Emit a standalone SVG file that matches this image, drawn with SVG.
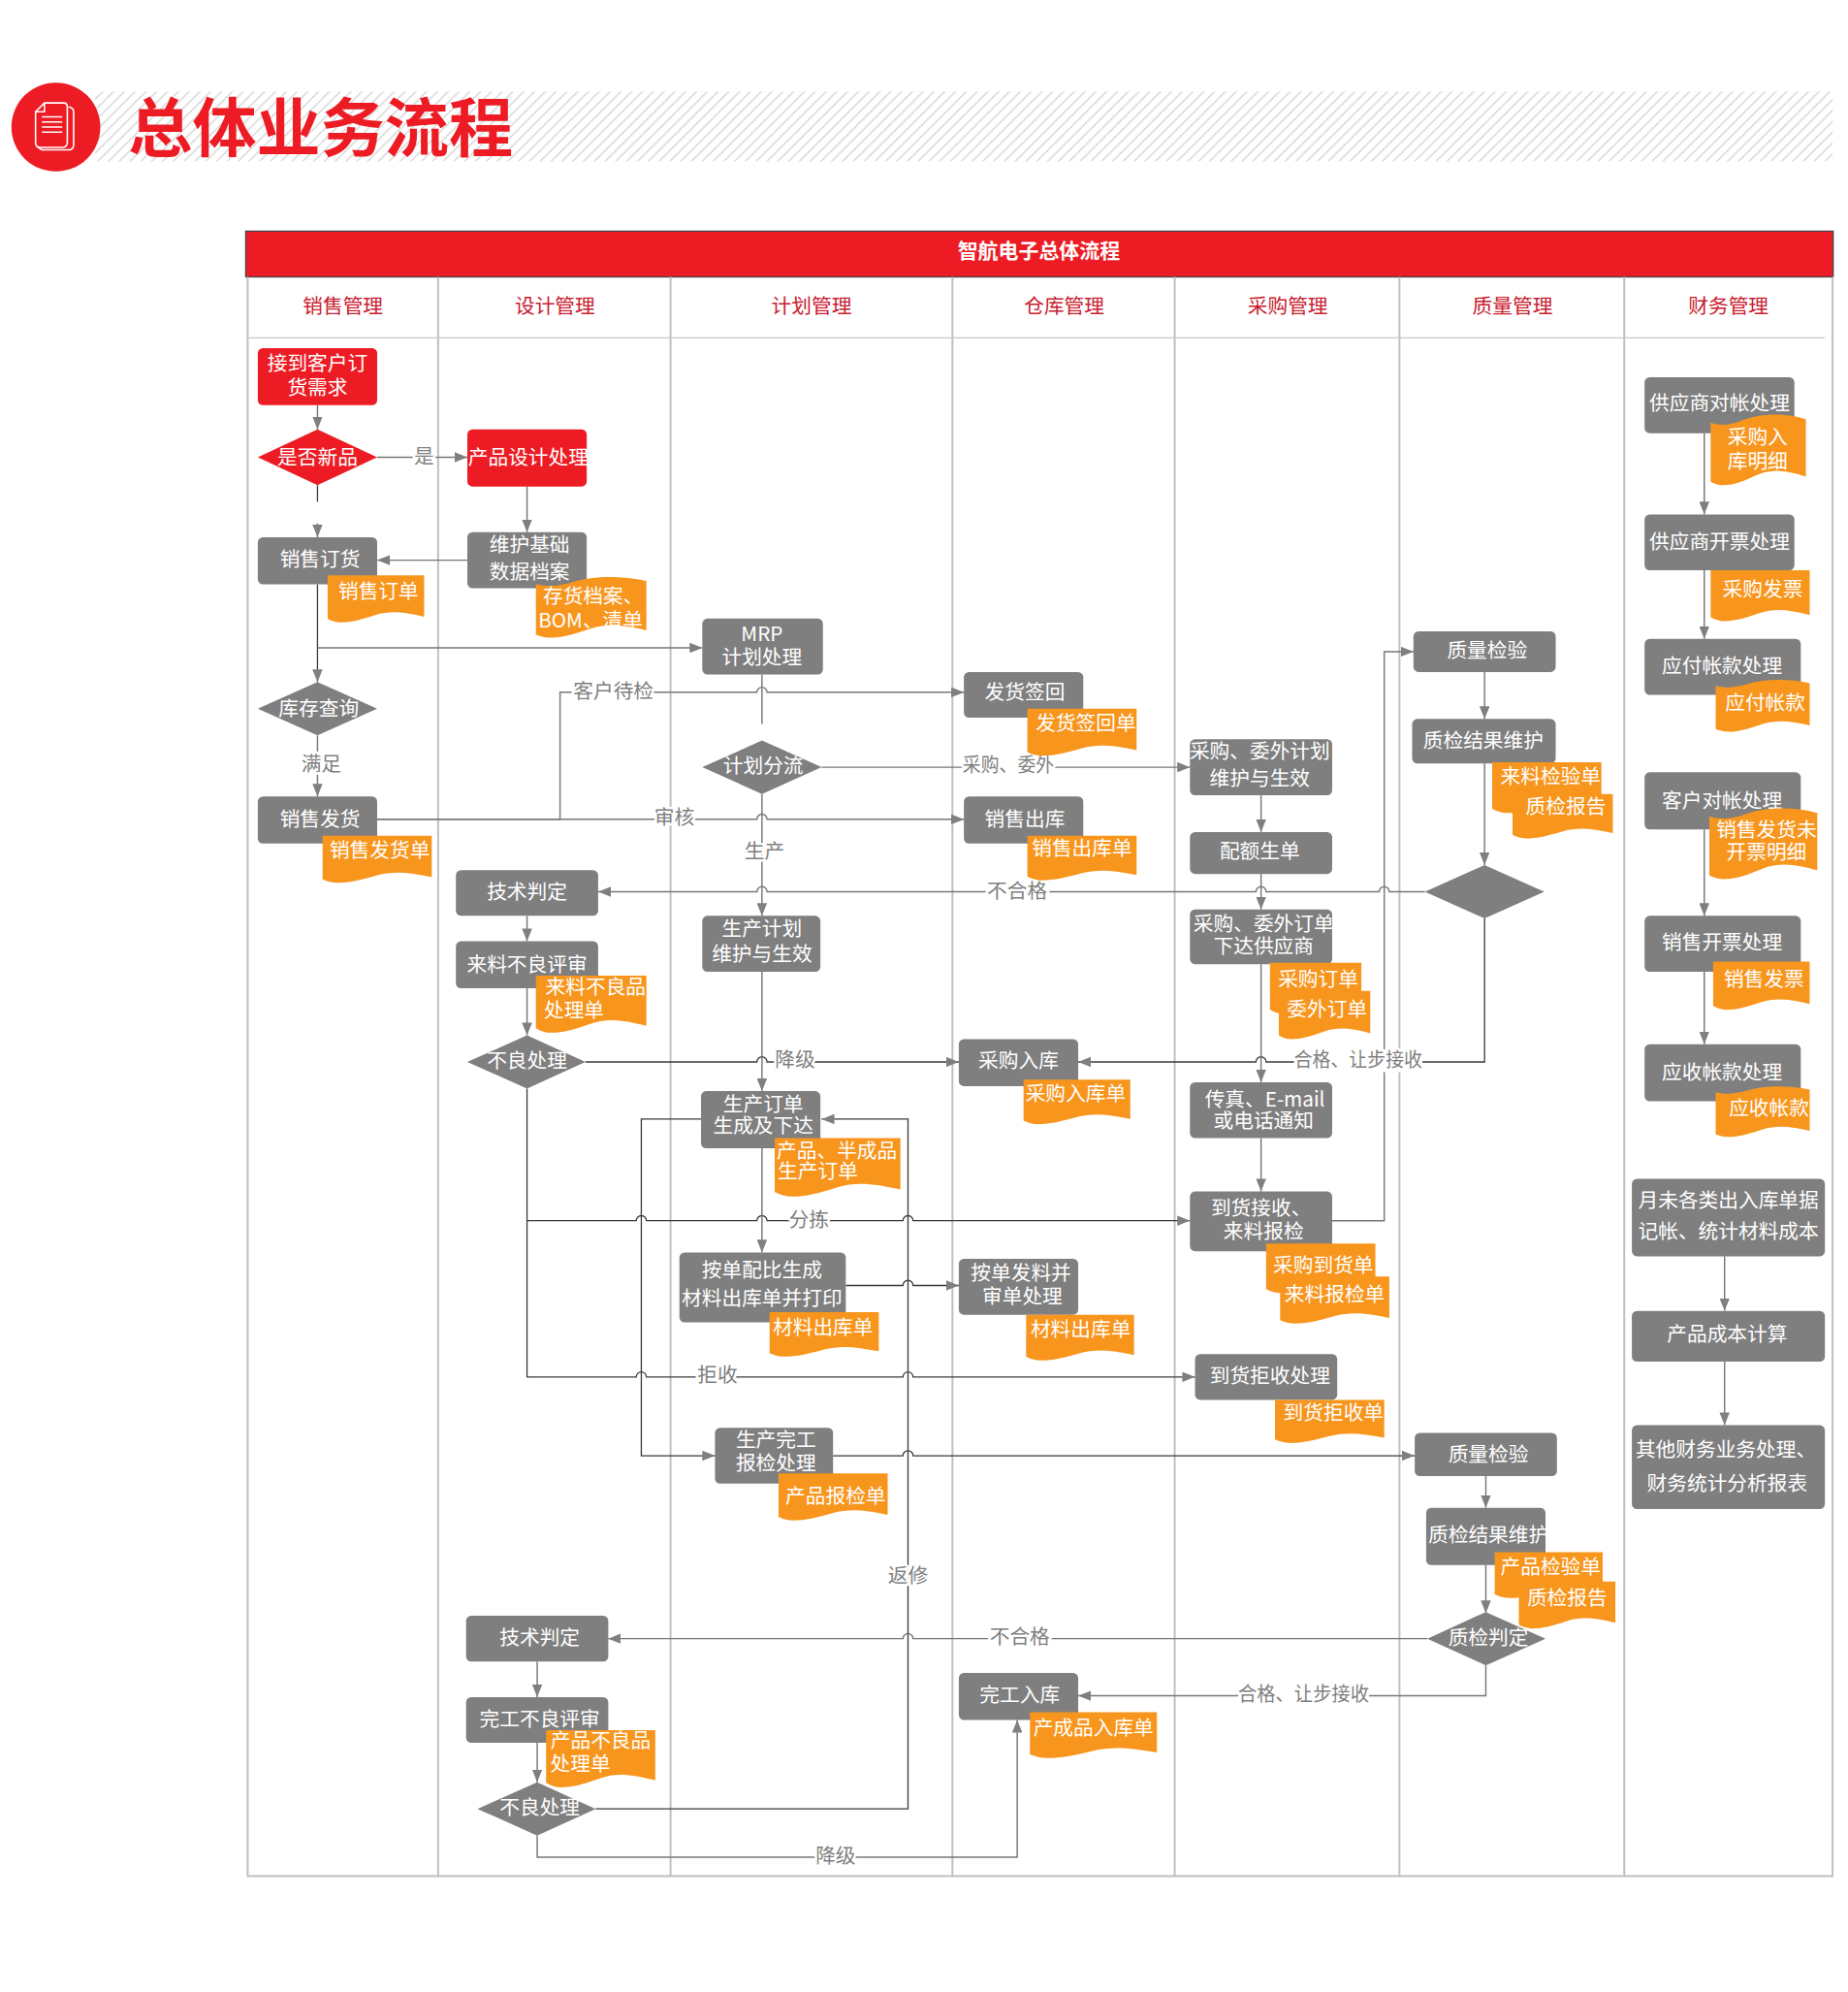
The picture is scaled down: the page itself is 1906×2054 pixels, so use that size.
<svg xmlns="http://www.w3.org/2000/svg" width="1906" height="2054" viewBox="0 0 1906 2054">
<style>
text{font-family:"Noto Sans CJK SC","Liberation Sans",sans-serif;text-anchor:middle;dominant-baseline:central;transform:translateY(-1.1px)}
.t{fill:#fff;font-size:15.8px}
.l{fill:#7f7f7f;font-size:15.8px;stroke:#fff;stroke-width:4px;paint-order:stroke;stroke-linejoin:round}
.h{fill:#c8202f;font-size:15.8px}
.g{fill:#7f7f7f}.r{fill:#ed1c24}.o{fill:#f8951d}
.c path{fill:none;stroke:#777;stroke-width:1.1}
.c path.d{stroke:#3a3a3a;stroke-width:1}
.c path.a{marker-end:url(#ar)}
.lane{fill:none;stroke:#bfbfbf;stroke-width:1.5}
</style>
<defs>
<marker id="ar" markerUnits="userSpaceOnUse" markerWidth="10" markerHeight="8" refX="10" refY="4" orient="auto"><path d="M0 0L10 4L0 8Z" fill="#7f7f7f"/></marker>
<pattern id="hatch" patternUnits="userSpaceOnUse" width="8.500" height="8.500"><path d="M-1 9.500L9.500 -1M-1 1L1 -1M7.500 9.500L9.500 7.500" stroke="#d0d0d0" stroke-width="1"/></pattern>
<path id="doc" d="M0 0H1V.88C.8 .78 .65 .74 .5 .84C.35 .94 .25 1 .14 1C.09 1 .04 .97 0 .92Z"/>
<path id="flag" d="M0 .12C.1 .17 .2 .16 .35 .08C.5 0 .75 -.03 1 .07V.88C.82 .8 .66 .76 .5 .85C.35 .94 .25 1 .14 1C.09 1 .04 .98 0 .95Z"/>
</defs>
<g transform="scale(1.3098)">
<g id="title">
<rect x="75" y="72" width="1368" height="55" fill="url(#hatch)"/>
<circle cx="44" cy="100" r="35" fill="#ed1c24"/>
<g fill="none" stroke="#fff" stroke-width="1.2"><path d="M54 84Q58 85 58 88V114Q58 118 54 118H35Q31 118 30 115"/><path d="M35 81H50Q53 81 53 84V112Q53 116 49 116H31Q28 116 28 112V88Z"/><path d="M35 81V88H28M33 92H49M33 96H49M33 100H49M33 104H49"/></g>
<text x="252.500" y="98" style="font-size:50.5px;font-weight:700;fill:#ed1c24">总体业务流程</text>
</g>
<g id="swimlanes">
<rect x="193.500" y="182" width="1250" height="36" fill="#ed1c24" stroke="#444" stroke-width="1"/>
<text x="818" y="197" style="fill:#fff;font-size:16px;font-weight:700">智航电子总体流程</text>
<path class="lane" d="M195 218V1477H1443V218M345 218V1477M528 218V1477M750 218V1477M925 218V1477M1102 218V1477M1279 218V1477"/>
<path d="M195 266H1437" fill="none" stroke="#c8c8c8" stroke-width="1"/>
<text class="h" x="270" y="241">销售管理</text><text class="h" x="437" y="241">设计管理</text><text class="h" x="639" y="241">计划管理</text><text class="h" x="838" y="241">仓库管理</text><text class="h" x="1014" y="241">采购管理</text><text class="h" x="1191" y="241">质量管理</text><text class="h" x="1361" y="241">财务管理</text>
</g>
<g id="connectors" class="c">
<path class="a" d="M250 319V338"/>
<path class="d" d="M250 382V395"/><path class="a" d="M250 412V423"/>
<path class="a" d="M297 360H368"/>
<path class="a" d="M415 383V419"/>
<path class="a" d="M368 441H297"/>
<path class="a d" d="M250 460V537"/>
<path class="a" d="M250 510H553"/>
<path class="a" d="M250 579V627"/>
<path class="a" d="M297 645H441V545H596a4 4 0 0 1 8 0H759"/>
<path class="a" d="M297 645H596a4 4 0 0 1 8 0H759"/>
<path d="M600 531V570"/>
<path class="a" d="M647 604H937"/>
<path class="a" d="M600 625V721"/>
<path class="a" d="M1122 702H1094a4 4 0 0 0 -8 0H997a4 4 0 0 0 -8 0H604a4 4 0 0 0 -8 0H471"/>
<path class="a" d="M415 721V741"/>
<path class="a" d="M415 778V815"/>
<path class="a d" d="M461 836H596a4 4 0 0 1 8 0H755"/>
<path class="a" d="M600 765V859"/>
<path class="a d" d="M1169 723V836H997a4 4 0 0 0 -8 0H849"/>
<path class="a" d="M993 626V655"/>
<path class="a" d="M993 688V716"/>
<path class="a" d="M993 759V852"/>
<path class="a" d="M993 896V938"/>
<path class="a" d="M1049 961H1090V513H1113"/>
<path class="a" d="M1169 529V566"/>
<path class="a" d="M1169 601V681"/>
<path class="a d" d="M415 857V1084H501a4 4 0 0 1 8 0H711a4 4 0 0 1 8 0H941"/>
<path class="a d" d="M415 961H501a4 4 0 0 1 8 0H596a4 4 0 0 1 8 0H711a4 4 0 0 1 8 0H937"/>
<path class="a" d="M600 904V986"/>
<path class="a d" d="M552 881H505V1146H563"/>
<path class="a d" d="M666 1012H711a4 4 0 0 1 8 0H755"/>
<path class="a d" d="M656 1146H711a4 4 0 0 1 8 0H1114"/>
<path class="a" d="M1170 1162V1187"/>
<path class="a" d="M1170 1232V1270"/>
<path class="a" d="M1124 1290H719a4 4 0 0 0 -8 0H479"/>
<path class="a" d="M1170 1311V1335H849"/>
<path class="a" d="M423 1308V1336"/>
<path class="a" d="M423 1372V1403"/>
<path class="a d" d="M469 1424H715V881H647"/>
<path class="a" d="M423 1445V1462H801V1354"/>
<path class="a" d="M1342 341V405"/>
<path class="a" d="M1342 449V503"/>
<path class="a" d="M1342 653V721"/>
<path class="a" d="M1342 765V822"/>
<path class="a" d="M1358 989V1032"/>
<path class="a" d="M1358 1072V1122"/>
<rect x="758" y="594" width="72" height="18" fill="#fff"/>
<rect x="1019" y="826" width="101" height="18" fill="#fff"/>
<rect x="975" y="1325" width="103" height="18" fill="#fff"/>
<text class="l" x="334" y="359">是</text>
<text class="l" x="253" y="601">满足</text>
<text class="l" x="483" y="544">客户待检</text>
<text class="l" x="531" y="643">审核</text>
<text class="l" x="794" y="602" textLength="72" lengthAdjust="spacingAndGlyphs">采购、委外</text>
<text class="l" x="602" y="670">生产</text>
<text class="l" x="801" y="701">不合格</text>
<text class="l" x="626" y="834">降级</text>
<text class="l" x="1069.500" y="834" textLength="101" lengthAdjust="spacingAndGlyphs">合格、让步接收</text>
<text class="l" x="637" y="960">分拣</text>
<text class="l" x="565" y="1082">拒收</text>
<text class="l" x="715" y="1240">返修</text>
<text class="l" x="803" y="1288">不合格</text>
<text class="l" x="1026.500" y="1333" textLength="103" lengthAdjust="spacingAndGlyphs">合格、让步接收</text>
<text class="l" x="658" y="1461">降级</text>
</g>
<g id="n1"><rect class="r" x="203" y="274" width="94" height="45" rx="4"/><text class="t" x="250" y="286">接到客户订</text><text class="t" x="250" y="305">货需求</text></g>
<g id="n2"><path class="r" d="M203 360L250 338L297 360L250 382Z"/><text class="t" x="250" y="360">是否新品</text></g>
<g id="n3"><rect class="r" x="368" y="338" width="94" height="45" rx="4"/><text class="t" x="416" y="360">产品设计处理</text></g>
<g id="n4"><rect class="g" x="203" y="423" width="94" height="37" rx="4"/><text class="t" x="252" y="440">销售订货</text><use href="#doc" class="o" transform="translate(258 453) scale(76 37)"/><text class="t" x="298" y="465">销售订单</text></g>
<g id="n5"><rect class="g" x="368" y="419" width="94" height="44" rx="4"/><text class="t" x="417" y="429">维护基础</text><text class="t" x="417" y="450">数据档案</text><use href="#flag" class="o" transform="translate(422 454) scale(87 48)"/><text class="t" x="467" y="469">存货档案、</text><text class="t" x="465" y="488">BOM、清单</text></g>
<g id="n6"><rect class="g" x="553" y="487" width="95" height="44" rx="4"/><text class="t" x="600" y="499">MRP</text><text class="t" x="600" y="517">计划处理</text></g>
<g id="n7"><path class="g" d="M203 558L250 537L297 558L250 579Z"/><text class="t" x="251" y="558">库存查询</text></g>
<g id="n8"><rect class="g" x="759" y="529" width="94" height="36" rx="4"/><text class="t" x="807" y="545">发货签回</text><use href="#doc" class="o" transform="translate(809 558) scale(86 37)"/><text class="t" x="855" y="569">发货签回单</text></g>
<g id="n9"><path class="g" d="M553 604L600 583L647 604L600 625Z"/><text class="t" x="601" y="603">计划分流</text></g>
<g id="n10"><rect class="g" x="203" y="627" width="94" height="37" rx="4"/><text class="t" x="252" y="645">销售发货</text><use href="#doc" class="o" transform="translate(254 658) scale(86 37)"/><text class="t" x="299" y="669">销售发货单</text></g>
<g id="n11"><rect class="g" x="759" y="627" width="94" height="37" rx="4"/><text class="t" x="807" y="645">销售出库</text><use href="#doc" class="o" transform="translate(809 658) scale(86 35)"/><text class="t" x="852" y="668">销售出库单</text></g>
<g id="n12"><rect class="g" x="937" y="582" width="112" height="44" rx="4"/><text class="t" x="992" y="591">采购、委外计划</text><text class="t" x="992" y="613">维护与生效</text></g>
<g id="n13"><rect class="g" x="937" y="655" width="112" height="33" rx="4"/><text class="t" x="992" y="670">配额生单</text></g>
<g id="n14"><rect class="g" x="359" y="685" width="112" height="36" rx="4"/><text class="t" x="415" y="702">技术判定</text></g>
<g id="n15"><rect class="g" x="553" y="721" width="93" height="44" rx="4"/><text class="t" x="600" y="731">生产计划</text><text class="t" x="600" y="751">维护与生效</text></g>
<g id="n16"><rect class="g" x="937" y="716" width="112" height="43" rx="4"/><text class="t" x="995" y="727">采购、委外订单</text><text class="t" x="995" y="745">下达供应商</text><use href="#doc" class="o" transform="translate(1000 758) scale(72 40)"/><text class="t" x="1038" y="771">采购订单</text><use href="#doc" class="o" transform="translate(1007 780) scale(72 38)"/><text class="t" x="1045" y="794">委外订单</text></g>
<g id="n17"><rect class="g" x="359" y="741" width="112" height="37" rx="4"/><text class="t" x="415" y="759">来料不良评审</text><use href="#doc" class="o" transform="translate(422 768) scale(87 45)"/><text class="t" x="469" y="777">来料不良品</text><text class="t" x="452" y="795">处理单</text></g>
<g id="n18"><path class="g" d="M368 836L415 815L461 836L415 857Z"/><text class="t" x="415" y="835">不良处理</text></g>
<g id="n19"><rect class="g" x="755" y="818" width="94" height="37" rx="4"/><text class="t" x="802" y="835">采购入库</text><use href="#doc" class="o" transform="translate(806 850) scale(84 35)"/><text class="t" x="847" y="861">采购入库单</text></g>
<g id="n20"><rect class="g" x="552" y="859" width="94" height="45" rx="4"/><text class="t" x="601" y="869">生产订单</text><text class="t" x="601" y="886">生成及下达</text><use href="#doc" class="o" transform="translate(610 896) scale(99 46)"/><text class="t" x="659" y="906">产品、半成品</text><text class="t" x="644" y="922">生产订单</text></g>
<g id="n21"><rect class="g" x="937" y="852" width="112" height="44" rx="4"/><text class="t" x="996" y="865">传真、E-mail</text><text class="t" x="995" y="882">或电话通知</text></g>
<g id="n22"><rect class="g" x="937" y="938" width="112" height="47" rx="4"/><text class="t" x="993" y="951">到货接收、</text><text class="t" x="995" y="969">来料报检</text><use href="#doc" class="o" transform="translate(997 979) scale(86 39)"/><text class="t" x="1042" y="996">采购到货单</text><use href="#doc" class="o" transform="translate(1008 1005) scale(86 37)"/><text class="t" x="1051" y="1019">来料报检单</text></g>
<g id="n23"><rect class="g" x="535" y="986" width="131" height="55" rx="4"/><text class="t" x="600" y="1000">按单配比生成</text><text class="t" x="600" y="1022">材料出库单并打印</text><use href="#doc" class="o" transform="translate(606 1033) scale(86 35)"/><text class="t" x="648" y="1045">材料出库单</text></g>
<g id="n24"><rect class="g" x="755" y="991" width="94" height="44" rx="4"/><text class="t" x="804" y="1002">按单发料并</text><text class="t" x="805" y="1020">审单处理</text><use href="#doc" class="o" transform="translate(808 1035) scale(85 36)"/><text class="t" x="851" y="1046">材料出库单</text></g>
<g id="n25"><rect class="g" x="941" y="1066" width="112" height="36" rx="4"/><text class="t" x="1000" y="1083">到货拒收处理</text><use href="#doc" class="o" transform="translate(1004 1102) scale(86 34)"/><text class="t" x="1050" y="1112">到货拒收单</text></g>
<g id="n26"><rect class="g" x="563" y="1124" width="93" height="44" rx="4"/><text class="t" x="611" y="1133">生产完工</text><text class="t" x="611" y="1152">报检处理</text><use href="#doc" class="o" transform="translate(613 1160) scale(86 37)"/><text class="t" x="658" y="1178">产品报检单</text></g>
<g id="n27"><rect class="g" x="1114" y="1128" width="112" height="34" rx="4"/><text class="t" x="1172" y="1145">质量检验</text></g>
<g id="n28"><rect class="g" x="1123" y="1187" width="94" height="45" rx="4"/><text class="t" x="1172" y="1208">质检结果维护</text><use href="#doc" class="o" transform="translate(1177 1222) scale(85 36)"/><text class="t" x="1221" y="1233">产品检验单</text><use href="#doc" class="o" transform="translate(1196 1245) scale(76 37)"/><text class="t" x="1234" y="1258">质检报告</text></g>
<g id="n29"><path class="g" d="M1124 1290L1170 1269L1217 1290L1170 1311Z"/><text class="t" x="1172" y="1289">质检判定</text></g>
<g id="n30"><rect class="g" x="367" y="1272" width="112" height="36" rx="4"/><text class="t" x="425" y="1289">技术判定</text></g>
<g id="n31"><rect class="g" x="367" y="1336" width="112" height="36" rx="4"/><text class="t" x="425" y="1353">完工不良评审</text><use href="#doc" class="o" transform="translate(430 1362) scale(86 45)"/><text class="t" x="473" y="1370">产品不良品</text><text class="t" x="457" y="1388">处理单</text></g>
<g id="n32"><path class="g" d="M376 1424L423 1403L469 1424L423 1445Z"/><text class="t" x="425" y="1423">不良处理</text></g>
<g id="n33"><rect class="g" x="755" y="1317" width="94" height="37" rx="4"/><text class="t" x="803" y="1334">完工入库</text><use href="#doc" class="o" transform="translate(811 1348) scale(100 36)"/><text class="t" x="861" y="1360">产成品入库单</text></g>
<g id="n34"><rect class="g" x="1113" y="497" width="112" height="32" rx="4"/><text class="t" x="1171" y="512">质量检验</text></g>
<g id="n35"><rect class="g" x="1112" y="566" width="113" height="35" rx="4"/><text class="t" x="1168" y="583">质检结果维护</text><use href="#doc" class="o" transform="translate(1175 600) scale(86 40)"/><text class="t" x="1221" y="611">来料检验单</text><use href="#doc" class="o" transform="translate(1191 625) scale(79 35)"/><text class="t" x="1233" y="635">质检报告</text></g>
<g id="n36"><path class="g" d="M1122 702L1169 681L1216 702L1169 723Z"/></g>
<g id="n37"><rect class="g" x="1295" y="297" width="118" height="44" rx="4"/><text class="t" x="1354" y="317">供应商对帐处理</text><use href="#flag" class="o" transform="translate(1347 326) scale(75 56)"/><text class="t" x="1384" y="344">采购入</text><text class="t" x="1384" y="363">库明细</text></g>
<g id="n38"><rect class="g" x="1295" y="405" width="118" height="44" rx="4"/><text class="t" x="1354" y="426">供应商开票处理</text><use href="#doc" class="o" transform="translate(1347 449) scale(78 40)"/><text class="t" x="1388" y="464">采购发票</text></g>
<g id="n39"><rect class="g" x="1295" y="503" width="123" height="44" rx="4"/><text class="t" x="1356" y="524">应付帐款处理</text><use href="#flag" class="o" transform="translate(1351 535) scale(74 41)"/><text class="t" x="1390" y="553">应付帐款</text></g>
<g id="n40"><rect class="g" x="1295" y="608" width="123" height="45" rx="4"/><text class="t" x="1356" y="630">客户对帐处理</text><use href="#flag" class="o" transform="translate(1346 636) scale(85 56)"/><text class="t" x="1391" y="653">销售发货未</text><text class="t" x="1391" y="671">开票明细</text></g>
<g id="n41"><rect class="g" x="1295" y="721" width="123" height="44" rx="4"/><text class="t" x="1356" y="742">销售开票处理</text><use href="#doc" class="o" transform="translate(1349 757) scale(76 38)"/><text class="t" x="1389" y="771">销售发票</text></g>
<g id="n42"><rect class="g" x="1295" y="822" width="123" height="45" rx="4"/><text class="t" x="1356" y="844">应收帐款处理</text><use href="#flag" class="o" transform="translate(1351 855) scale(74 40)"/><text class="t" x="1393" y="872">应收帐款</text></g>
<g id="n43"><rect class="g" x="1285" y="928" width="152" height="61" rx="4"/><text class="t" x="1361" y="945">月未各类出入库单据</text><text class="t" x="1361" y="969">记帐、统计材料成本</text></g>
<g id="n44"><rect class="g" x="1285" y="1032" width="152" height="40" rx="4"/><text class="t" x="1360" y="1050">产品成本计算</text></g>
<g id="n45"><rect class="g" x="1285" y="1122" width="152" height="66" rx="4"/><text class="t" x="1359" y="1141">其他财务业务处理、</text><text class="t" x="1360" y="1168">财务统计分析报表</text></g>
</g>
</svg>
